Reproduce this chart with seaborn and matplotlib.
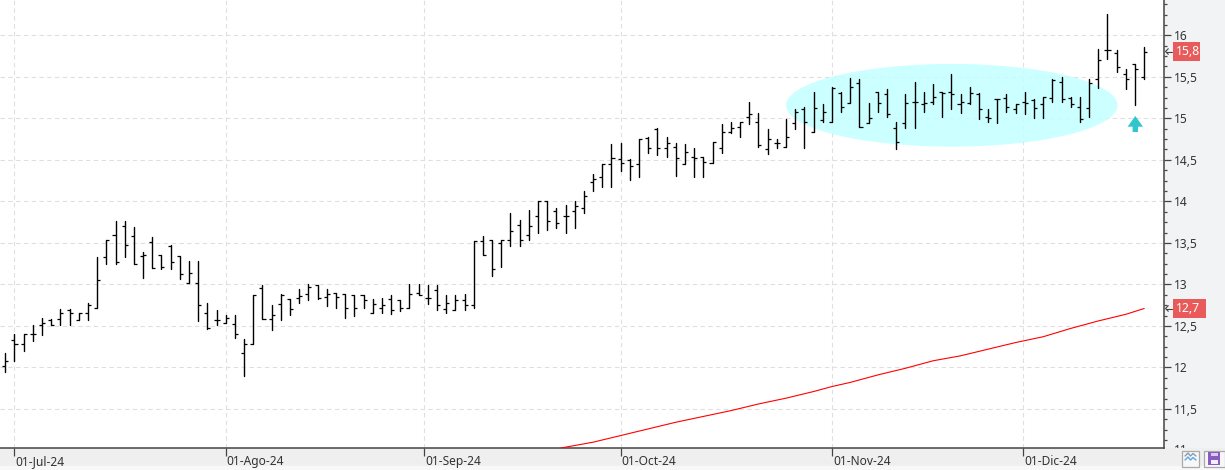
import numpy as np
import pandas as pd
import matplotlib
matplotlib.use('Agg')
import matplotlib.pyplot as plt
import seaborn as sns
from matplotlib.patches import Ellipse, Rectangle, Polygon
from matplotlib.ticker import FixedLocator, MultipleLocator, FuncFormatter
from matplotlib.transforms import ScaledTranslation, Bbox, TransformedBbox

# daily bars, 28-Jun-24 to 19-Dic-24
opens = [12.02, 12.33, 12.28, 12.40, 12.51, 12.57, 12.58, 12.69, 12.57, 12.66,
         12.72, 13.33, 13.60, 13.70, 13.58, 13.34, 13.51, 13.36, 13.46, 13.34,
         13.02, 13.02, 12.66, 12.57, 12.54, 12.52, 12.18, 12.28, 12.96, 12.58,
         12.76, 12.82, 12.84, 12.88, 12.99, 12.85, 12.90, 12.88, 12.87, 12.87,
         12.66, 12.72, 12.82, 12.81, 12.72, 12.90, 12.84, 12.93, 12.70, 12.69,
         12.81, 12.75, 13.52, 13.54, 13.50, 13.54, 13.72, 13.60, 13.82, 14.00,
         13.88, 13.82, 13.88, 13.92, 14.23, 14.29, 14.45, 14.51, 14.50, 14.45,
         14.76, 14.87, 14.64, 14.66, 14.45, 14.54, 14.54, 14.46, 14.64, 14.84,
         14.90, 15.02, 14.96, 14.63, 14.70, 14.66, 14.94, 15.11, 14.84, 14.98,
         14.96, 15.31, 15.18, 15.42, 14.94, 15.32, 15.29, 14.88, 14.94, 15.20,
         15.17, 15.20, 15.32, 15.32, 15.17, 15.18, 15.29, 15.02, 15.23, 15.24,
         15.11, 15.20, 15.22, 15.17, 15.24, 15.44, 15.24, 15.14, 15.12, 15.47,
         15.82, 15.79, 15.53, 15.65, 15.50]
highs = [12.18, 12.40, 12.40, 12.51, 12.60, 12.58, 12.70, 12.70, 12.66, 12.78,
         13.33, 13.54, 13.76, 13.76, 13.69, 13.39, 13.57, 13.36, 13.48, 13.34,
         13.28, 13.28, 12.78, 12.69, 12.63, 12.63, 12.34, 12.87, 12.99, 12.75,
         12.88, 12.82, 12.94, 13.00, 12.99, 12.94, 12.90, 12.88, 12.87, 12.87,
         12.82, 12.84, 12.87, 12.81, 13.00, 13.00, 12.99, 12.99, 12.87, 12.87,
         12.88, 13.52, 13.58, 13.54, 13.54, 13.86, 13.78, 13.90, 14.00, 14.00,
         13.92, 13.96, 14.00, 14.12, 14.33, 14.45, 14.69, 14.70, 14.51, 14.75,
         14.78, 14.88, 14.78, 14.70, 14.69, 14.64, 14.54, 14.72, 14.93, 14.96,
         14.96, 15.20, 15.06, 14.87, 14.75, 14.99, 15.11, 15.14, 15.32, 15.17,
         15.38, 15.32, 15.48, 15.47, 15.18, 15.32, 15.35, 14.96, 15.29, 15.44,
         15.32, 15.41, 15.32, 15.53, 15.29, 15.38, 15.30, 15.11, 15.23, 15.29,
         15.17, 15.32, 15.23, 15.26, 15.47, 15.50, 15.26, 15.26, 15.47, 15.84,
         16.26, 15.82, 15.60, 15.65, 15.86]
lows = [11.94, 12.08, 12.20, 12.32, 12.39, 12.51, 12.51, 12.51, 12.57, 12.57,
        12.72, 13.24, 13.24, 13.33, 13.24, 13.08, 13.20, 13.18, 13.18, 13.06,
        13.02, 12.56, 12.46, 12.51, 12.54, 12.36, 11.90, 12.28, 12.58, 12.45,
        12.57, 12.63, 12.78, 12.81, 12.82, 12.74, 12.72, 12.60, 12.62, 12.72,
        12.66, 12.66, 12.64, 12.68, 12.72, 12.87, 12.76, 12.69, 12.66, 12.69,
        12.69, 12.72, 13.36, 13.10, 13.21, 13.46, 13.46, 13.54, 13.62, 13.66,
        13.68, 13.62, 13.68, 13.86, 14.12, 14.17, 14.17, 14.36, 14.26, 14.29,
        14.58, 14.56, 14.54, 14.30, 14.45, 14.29, 14.29, 14.46, 14.58, 14.82,
        14.78, 14.93, 14.66, 14.57, 14.64, 14.66, 14.87, 14.64, 14.84, 14.96,
        14.96, 15.08, 15.18, 14.90, 14.94, 15.08, 15.02, 14.63, 14.88, 14.88,
        15.08, 15.17, 15.02, 15.11, 15.06, 15.17, 14.99, 14.96, 14.94, 15.08,
        15.06, 15.05, 15.00, 15.00, 15.20, 15.20, 15.14, 14.96, 15.02, 15.36,
        15.72, 15.56, 15.35, 15.16, 15.47]
closes = [12.08, 12.28, 12.40, 12.40, 12.54, 12.51, 12.66, 12.66, 12.66, 12.75,
          13.05, 13.54, 13.27, 13.48, 13.24, 13.36, 13.20, 13.21, 13.27, 13.12,
          13.14, 12.75, 12.48, 12.57, 12.60, 12.40, 12.28, 12.87, 12.58, 12.63,
          12.87, 12.70, 12.86, 12.97, 12.84, 12.88, 12.85, 12.72, 12.72, 12.81,
          12.76, 12.75, 12.69, 12.72, 12.88, 12.87, 12.84, 12.75, 12.78, 12.81,
          12.75, 13.52, 13.36, 13.18, 13.53, 13.64, 13.54, 13.70, 14.00, 13.76,
          13.74, 13.82, 13.94, 14.06, 14.27, 14.45, 14.52, 14.46, 14.42, 14.75,
          14.64, 14.64, 14.70, 14.52, 14.60, 14.52, 14.48, 14.71, 14.84, 14.88,
          14.96, 15.05, 14.68, 14.75, 14.70, 14.78, 15.08, 14.96, 15.12, 15.08,
          15.36, 15.14, 15.38, 14.90, 15.00, 15.18, 15.05, 14.72, 15.18, 15.20,
          15.18, 15.26, 15.30, 15.29, 15.20, 15.30, 15.11, 15.00, 15.23, 15.14,
          15.17, 15.18, 15.12, 15.26, 15.46, 15.23, 15.17, 14.99, 15.42, 15.70,
          15.82, 15.62, 15.47, 15.59, 15.80]

# red average, read every third bar
avg_bars = [60.5, 61, 64, 67, 70, 73, 76, 79, 82, 85, 88, 90, 92, 95, 98, 101, 104,
            107, 110, 113, 116, 119, 122, 124]
avg_vals = [11.03, 11.04, 11.10, 11.18, 11.26, 11.34, 11.41, 11.48, 11.56, 11.63,
            11.71, 11.77, 11.82, 11.91, 11.99, 12.08, 12.14, 12.22, 12.30, 12.37,
            12.47, 12.56, 12.64, 12.71]

month_pos = [1, 24, 45.6, 67, 90, 110.8]
month_labels = ['01-Jul-24', '01-Ago-24', '01-Sep-24', '01-Oct-24', '01-Nov-24', '01-Dic-24']

W, H = 1225, 470
sns.set_theme(style='white')
plt.rcParams['font.family'] = ['Noto Sans', 'DejaVu Sans']

fig = plt.figure(figsize=(W / 100, H / 100), dpi=100, facecolor='#F2F3F5')
fig.add_artist(Rectangle((0, 0), 1, 22 / H, transform=fig.transFigure, color='#EFEFEF', zorder=-2))
fig.add_artist(Rectangle((0, 0), 1, 4 / H, transform=fig.transFigure, color='#F8F8F8', zorder=-1))

ax = fig.add_axes([0, 22 / H, 1163.5 / W, 448 / H], facecolor='white')

bars = pd.DataFrame({'bar': range(len(opens)), 'open': opens, 'high': highs, 'low': lows, 'close': closes})
wicks = bars.melt(id_vars='bar', value_vars=['high', 'low'], value_name='price')

ax.grid(True, color='#DFDFDF', lw=0.8, linestyle=(0, (4, 3)))
ax.set_axisbelow(True)

ax.add_patch(Ellipse((103.05, 15.157), 36.1, 0.996, facecolor='#C4FFFF', edgecolor='none', alpha=0.86, zorder=1.5))

sns.lineplot(data=wicks, x='bar', y='price', units='bar', estimator=None, color='black', lw=1.0, ax=ax, zorder=3)
ax.hlines(bars['open'], bars['bar'] - 0.33, bars['bar'], color='black', lw=0.9, zorder=3, snap=True)
ax.hlines(bars['close'], bars['bar'], bars['bar'] + 0.33, color='black', lw=0.9, zorder=3, snap=True)
sns.lineplot(x=avg_bars, y=avg_vals, color='#FF0000', lw=0.8, ax=ax, zorder=3)

ax.set_xlim(-0.577, 126.1)
ax.set_ylim(11.03, 16.425)
ax.set_xlabel('')
ax.set_ylabel('')

for s in ['left', 'top']:
    ax.spines[s].set_visible(False)
for s in ['right', 'bottom']:
    ax.spines[s].set_color('#444444')
    ax.spines[s].set_linewidth(1.1)

ax.xaxis.set_major_locator(FixedLocator(month_pos))
ax.set_xticklabels(month_labels)
ax.tick_params(axis='x', bottom=True, length=5.8, width=0.9, color='#444444', pad=-0.5,
               labelsize=8.6, labelcolor='#333333')
shift = ScaledTranslation(1 / 100, 0, fig.dpi_scale_trans)
for lab in ax.get_xticklabels():
    lab.set_ha('left')
    lab.set_transform(lab.get_transform() + shift)

ax.yaxis.tick_right()
ax.yaxis.set_major_locator(MultipleLocator(0.5))
ax.yaxis.set_minor_locator(MultipleLocator(0.125))
ax.yaxis.set_major_formatter(FuncFormatter(lambda v, p: f'{v:g}'.replace('.', ',')))
ax.tick_params(axis='y', which='major', right=True, length=5, width=0.9, color='#444444', pad=2.5,
               labelsize=8.6, labelcolor='#333333')
ax.tick_params(axis='y', which='minor', right=True, length=2.2, width=0.9, color='#444444')
ax.grid(False, which='minor')

# the 11 label is cut by the date strip
t = ax.annotate('11', xy=(1, 11), xycoords=ax.get_yaxis_transform(), xytext=(7.5, 0), textcoords='offset points',
                va='center', ha='left', fontsize=8.6, color='#333333', annotation_clip=False)
t.set_clip_box(TransformedBbox(Bbox([[0, 22 / H], [1, 1]]), fig.transFigure))
t.set_clip_on(True)

# interface bits, in pixels
ui = fig.add_axes([0, 0, 1, 1], facecolor='none', zorder=5)
ui.set_xlim(0, W)
ui.set_ylim(H, 0)
ui.axis('off')

ui.add_patch(Polygon([(1135.3, 116), (1143, 126.7), (1138, 126.7), (1138, 132), (1132.6, 132),
                      (1132.6, 126.7), (1127.6, 126.7)], closed=True, facecolor='#2FC6CC', edgecolor='none'))

for top, bot, right, txt, ypos in [(42, 61, 1200, '15,8', 51.5), (299, 318, 1206, '12,7', 308.5)]:
    ui.add_patch(Rectangle((1173, top), right - 1173, bot - top, facecolor='#E95B5B', edgecolor='none'))
    ui.text(1175.5, ypos, txt, color='white', fontsize=8.8, va='center', ha='left')
    ui.plot([1165.5, 1171.5], [ypos, ypos], color='#444444', lw=0.8)
    ui.plot([1168.3, 1165.5, 1168.3], [ypos - 2.8, ypos, ypos + 2.8], color='#444444', lw=0.8)

ui.add_patch(Rectangle((1181.5, 450.5), 17.5, 16, facecolor='#F7F7F7', edgecolor='#AAAAAA', lw=0.9))
ui.plot([1185, 1188, 1190.5, 1193, 1196], [456, 453, 456, 453.5, 456], color='#8A9BB0', lw=1)
ui.plot([1185, 1188, 1190.5, 1193, 1196], [460, 457, 460, 457.5, 460], color='#5AA9E0', lw=1)
ui.add_patch(Rectangle((1203.5, 450.5), 21, 16, facecolor='#F7F7F7', edgecolor='#AAAAAA', lw=0.9))
ui.add_patch(Rectangle((1208, 451.5), 12, 13.5, facecolor='#8A5CC2', edgecolor='none'))
ui.add_patch(Rectangle((1210.5, 453), 7, 3, facecolor='#D9CBEF', edgecolor='none'))
ui.add_patch(Rectangle((1210.5, 459.5), 7, 4.5, facecolor='#F3EEF9', edgecolor='none'))

fig.savefig('out.png', dpi=100, facecolor=fig.get_facecolor())
